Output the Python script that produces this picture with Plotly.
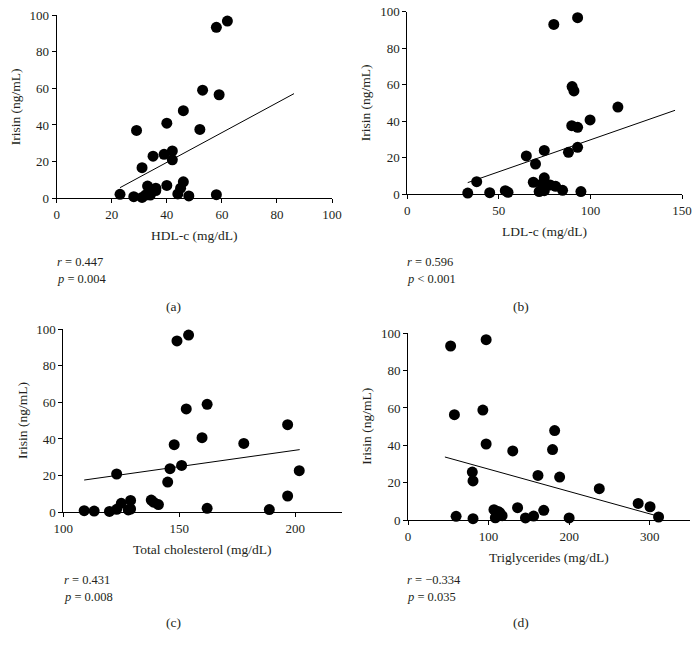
import plotly.graph_objects as go

# ---- data ----
irisin_a = [2.2, 0.9, 37, 16.7, 0.5, 1.8, 6.7, 1.8, 23, 5.5, 4.2, 24, 41, 7, 25.8, 21, 2.4, 5.5, 9, 47.8, 1.3, 37.6, 59, 93.3, 96.7, 56.5, 2]
hdl = [23, 28, 29, 31, 31, 32.3, 33, 34, 35, 36, 36, 39, 40, 40, 42, 42, 44, 45, 46, 46, 48, 52, 53, 58, 62, 59, 58]
hdl_fit_x = [23, 86.2]
hdl_fit_y = [5.8, 57.1]

ldl = [33, 37.9, 45, 53.5, 55, 65, 68.8, 70, 72, 73.4, 74.8, 74.8, 74.8, 78, 81, 80, 84.8, 88, 89.8, 90, 91, 93, 93, 93, 94.8, 99.8, 115]
irisin_b = [0.7, 6.9, 0.9, 2, 1.1, 21, 6.6, 16.6, 1.5, 5.7, 9, 24, 2, 5.1, 4.4, 93, 2.2, 23, 37.6, 59, 56.6, 96.7, 36.7, 25.7, 1.5, 40.7, 47.8]
ldl_fit_x = [33, 146.2]
ldl_fit_y = [6.4, 46]

tc = [109, 113.3, 119.9, 123, 123, 125, 128, 129, 129, 137.9, 138.9, 141, 145, 146, 147.8, 149, 151, 153, 154, 159.8, 162, 162, 177.8, 188.8, 196.7, 196.7, 201.7]
irisin_c = [0.9, 0.7, 0.5, 1.6, 20.9, 4.9, 1.3, 1.8, 6.5, 6.7, 5.5, 4.2, 16.5, 23.8, 36.9, 93.5, 25.6, 56.4, 96.7, 40.7, 58.9, 2.2, 37.6, 1.5, 47.8, 8.9, 22.7]
tc_fit_x = [109, 201.9]
tc_fit_y = [17.6, 34.2]

tg = [52.9, 57.6, 59.7, 79.8, 80.7, 80.7, 92.9, 97, 97, 106.7, 108.4, 111.8, 113.9, 116.8, 130, 136, 145.8, 155.9, 161.3, 168.5, 179.4, 182, 188.2, 200, 237.4, 285.7, 300.4, 311]
irisin_d = [93.2, 56.4, 2, 25.7, 20.9, 0.7, 58.9, 96.6, 40.7, 5.5, 1.2, 4.6, 3.9, 2.3, 37, 6.6, 1.1, 2.1, 23.9, 5.2, 37.7, 47.9, 23, 1.1, 16.8, 8.9, 7.1, 1.6]
tg_fit_x = [45.8, 310]
tg_fit_y = [33.75, 2.1]

x_titles = ["HDL-c (mg/dL)", "LDL-c (mg/dL)", "Total cholesterol (mg/dL)", "Triglycerides (mg/dL)"]
y_title = "Irisin (ng/mL)"
r_texts = ["0.447", "0.596", "0.431", "\u22120.334"]
p_texts = ["= 0.004", "< 0.001", "= 0.008", "= 0.035"]
panel_labels = ["(a)", "(b)", "(c)", "(d)"]

xs = [hdl, ldl, tc, tg]
ys = [irisin_a, irisin_b, irisin_c, irisin_d]
fits = [(hdl_fit_x, hdl_fit_y), (ldl_fit_x, ldl_fit_y), (tc_fit_x, tc_fit_y), (tg_fit_x, tg_fit_y)]

W, H = 699, 649
# plot areas in pixels: (x0, x1, ytop, ybottom)
boxes = [(56.7, 332, 15, 198.3), (407.3, 682, 11.7, 194.3), (63.3, 341.7, 329, 512.3), (408, 690, 333.3, 520)]
x_ranges = [[0, 100], [0, 150], [100, 220], [0, 350]]
x_ticks = [[0, 20, 40, 60, 80, 100], [0, 50, 100, 150], [100, 150, 200], [0, 100, 200, 300]]

FONT = "Liberation Serif, Times New Roman, serif"
TXT = "#231f20"

fig = go.Figure()
annotations = []
layout = {}
for i in range(4):
    sfx = "" if i == 0 else str(i + 1)
    xa, ya = "x" + sfx, "y" + sfx
    fig.add_trace(go.Scatter(x=xs[i], y=ys[i], mode="markers", xaxis=xa, yaxis=ya,
                             marker=dict(color="black", size=11), cliponaxis=False, showlegend=False))
    fig.add_trace(go.Scatter(x=fits[i][0], y=fits[i][1], mode="lines", xaxis=xa, yaxis=ya,
                             line=dict(color="black", width=1), cliponaxis=False, showlegend=False))
    x0, x1, yt, yb = boxes[i]
    common = dict(showgrid=False, zeroline=False, showline=True, linecolor="black", linewidth=1,
                  ticks="outside", ticklen=4, tickcolor="black", tickwidth=1, automargin=False,
                  tickfont=dict(family=FONT, size=13, color=TXT))
    layout["xaxis" + sfx] = dict(domain=[x0 / W, x1 / W], range=x_ranges[i], tickvals=x_ticks[i],
                                 anchor=ya, **common)
    layout["yaxis" + sfx] = dict(domain=[1 - yb / H, 1 - yt / H], range=[0, 100], tickvals=[0, 20, 40, 60, 80, 100],
                                 anchor=xa, **common)
    f = dict(family=FONT, size=13.5, color=TXT)
    fs = dict(family=FONT, size=12.5, color=TXT)
    # x title
    annotations.append(dict(text=x_titles[i], x=(x0 + x1) / 2 / W, y=1 - (yb + 37) / H, xref="paper", yref="paper",
                            showarrow=False, font=f, xanchor="center", yanchor="middle"))
    # y title
    annotations.append(dict(text=y_title, x=(x0 - 41) / W, y=1 - (yt + yb) / 2 / H, xref="paper", yref="paper",
                            showarrow=False, font=f, textangle=-90, xanchor="center", yanchor="middle"))
    # stats
    sx = [55, 405, 62, 405][i]
    sy = [262, 262, 580, 580][i]
    annotations.append(dict(text="<i>r</i> = " + r_texts[i], x=sx / W, y=1 - sy / H, xref="paper", yref="paper",
                            showarrow=False, font=fs, xanchor="left", yanchor="middle"))
    annotations.append(dict(text="<i>p</i> " + p_texts[i], x=sx / W, y=1 - (sy + 17) / H, xref="paper", yref="paper",
                            showarrow=False, font=fs, xanchor="left", yanchor="middle"))
    lx = [173, 521, 173, 521][i]
    ly = [306, 306, 622, 622][i]
    annotations.append(dict(text=panel_labels[i], x=lx / W, y=1 - ly / H, xref="paper", yref="paper",
                            showarrow=False, font=f, xanchor="center", yanchor="middle"))

fig.update_layout(template="none", width=W, height=H, margin=dict(l=0, r=0, t=0, b=0, pad=0),
                  plot_bgcolor="white", paper_bgcolor="white", annotations=annotations, **layout)
fig.write_html("out.html", config={"displayModeBar": False},
               post_script="document.body.style.margin='0';document.body.style.padding='0';")
